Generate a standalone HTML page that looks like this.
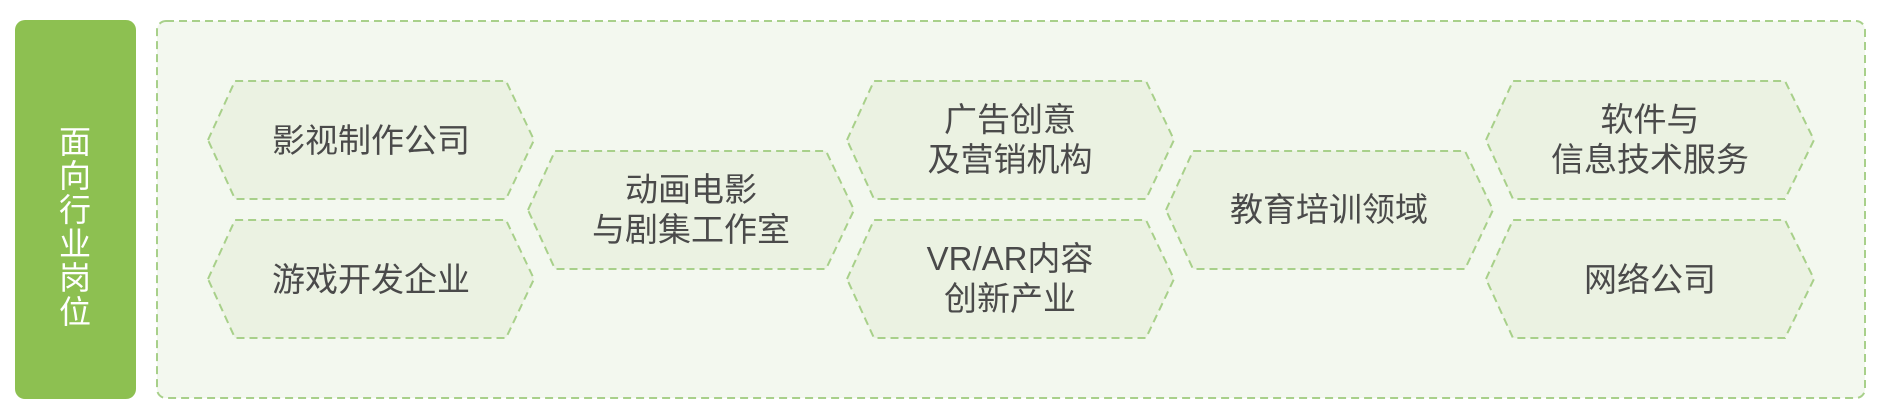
<!DOCTYPE html>
<html><head><meta charset="utf-8"><style>
html,body{margin:0;padding:0;background:#fff;width:1882px;height:419px;overflow:hidden}
svg text{font-family:"Liberation Sans","Noto Sans CJK SC",sans-serif}
</style></head><body>
<svg width="1882" height="419" viewBox="0 0 1882 419" xmlns="http://www.w3.org/2000/svg">
<rect x="15" y="20" width="121" height="379" rx="10" fill="#8dc051"/>
<text fill="#fff" font-size="32" text-anchor="middle">
<tspan x="75" y="153">面</tspan><tspan x="75" y="187">向</tspan><tspan x="75" y="221">行</tspan><tspan x="75" y="255">业</tspan><tspan x="75" y="289">岗</tspan><tspan x="75" y="323">位</tspan>
</text>
<rect x="157" y="21" width="1708" height="377" rx="9" fill="#f3f8ef" stroke="#a8d08a" stroke-width="2" stroke-dasharray="8,5"/>
<g fill="#ebf2e2" stroke="#a8d08a" stroke-width="2" stroke-dasharray="8,5">
<polygon points="208,140 235,81 506,81 534,140 506,199 235,199"/>
<polygon points="208,279 235,220 506,220 534,279 506,338 235,338"/>
<polygon points="528,210 555,151 826,151 854,210 826,269 555,269"/>
<polygon points="847,140 874,81 1146,81 1174,140 1146,199 874,199"/>
<polygon points="847,279 874,220 1146,220 1174,279 1146,338 874,338"/>
<polygon points="1166,210 1193,151 1465,151 1493,210 1465,269 1193,269"/>
<polygon points="1486,140 1513,81 1785,81 1814,140 1785,199 1513,199"/>
<polygon points="1486,279 1513,220 1785,220 1814,279 1785,338 1513,338"/>
</g>
<g fill="#4a4a4a" font-size="33" text-anchor="middle">
<text x="371" y="152">影视制作公司</text>
<text x="371" y="291">游戏开发企业</text>
<text x="691" y="201">动画电影</text><text x="691" y="241">与剧集工作室</text>
<text x="1010" y="131">广告创意</text><text x="1010" y="171">及营销机构</text>
<text x="1010" y="270">VR/AR内容</text><text x="1010" y="310">创新产业</text>
<text x="1329" y="221">教育培训领域</text>
<text x="1650" y="131">软件与</text><text x="1650" y="171">信息技术服务</text>
<text x="1650" y="291">网络公司</text>
</g>
</svg>
</body></html>
